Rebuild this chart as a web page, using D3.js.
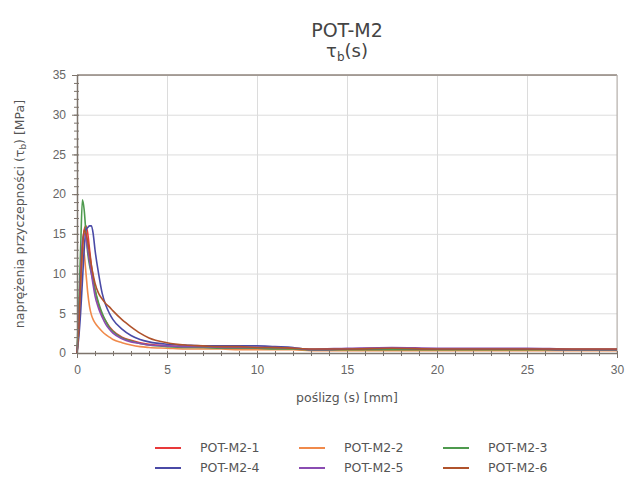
<!DOCTYPE html>
<html lang="pl">
  <head>
    <meta charset="utf-8">
    <title>POT-M2</title>
    <style type="text/css">
      body{ margin: 0; background: #fff; font-family: "DejaVu Sans", Verdana, sans-serif; }
      .grid line{ stroke: #dcdcdc; stroke-width: 1; }
      .grid .domain{ display: none; }
      .axis text{ fill: #666; font-size: 12px; }
      .axis line, .axis path{ stroke: #7d746c; }
      .curve{ fill: none; stroke-width: 1.6; stroke-linejoin: round; }
    </style>
  </head>
  <body>
    <div id="chart"></div>
    <script src="https://d3js.org/d3.v7.min.js"></script>
    <script type="text/javascript">

    const w = 625;
    const h = 479;

    // poślizg [mm]
    const slip = [0, 0.1, 0.2, 0.3, 0.4, 0.5, 0.6, 0.7, 0.8, 0.9, 1.0, 1.2, 1.4, 1.6, 1.8, 2.0, 2.5, 3, 3.5, 4,
                  5, 6, 7, 8, 9, 10, 11, 12, 13, 15, 17.5, 20, 22.5, 25, 27.5, 30];

    const seriesNames = ['POT-M2-1', 'POT-M2-2', 'POT-M2-3', 'POT-M2-4', 'POT-M2-5', 'POT-M2-6'];
    const seriesColors = ['#e8393a', '#f08a4b', '#4e9a4e', '#4a4aa6', '#8a4cb2', '#b0532c'];

    // naprężenia przyczepności [MPa]
    const m2_1 = [0, 3, 8, 13, 15.5, 16, 15, 13, 11, 9.5, 8, 6, 4.8, 4, 3.3, 2.8, 2.0, 1.6, 1.3, 1.1,
                  0.9, 0.8, 0.7, 0.7, 0.7, 0.6, 0.6, 0.5, 0.4, 0.4, 0.5, 0.4, 0.4, 0.4, 0.4, 0.4];
    const m2_2 = [0, 4, 9, 13.5, 12.5, 10, 7.5, 5.8, 4.8, 4.2, 3.8, 3.2, 2.7, 2.3, 2.0, 1.7, 1.3, 1.0, 0.8, 0.7,
                  0.6, 0.5, 0.5, 0.5, 0.4, 0.4, 0.4, 0.4, 0.3, 0.3, 0.3, 0.3, 0.3, 0.3, 0.3, 0.3];
    const m2_3 = [0, 6, 13, 19.3, 18, 15, 12.5, 11, 10, 9, 8, 6.3, 5.0, 4.0, 3.2, 2.7, 1.9, 1.5, 1.2, 1.0,
                  0.8, 0.7, 0.7, 0.6, 0.6, 0.6, 0.5, 0.5, 0.4, 0.4, 0.4, 0.4, 0.4, 0.4, 0.4, 0.4];
    const m2_4 = [0, 2, 5, 9, 13, 15.5, 15.8, 16, 16, 15, 13, 10, 7.5, 6, 5, 4.2, 3.0, 2.2, 1.7, 1.4,
                  1.1, 1.0, 0.9, 0.9, 0.9, 0.9, 0.8, 0.7, 0.4, 0.5, 0.6, 0.5, 0.5, 0.5, 0.4, 0.4];
    const m2_5 = [0, 4, 10, 14, 15, 14.5, 13, 11.5, 10, 8.5, 7.2, 5.6, 4.5, 3.6, 3.0, 2.5, 1.8, 1.4, 1.2, 1.0,
                  0.9, 0.8, 0.8, 0.7, 0.7, 0.7, 0.7, 0.6, 0.5, 0.6, 0.7, 0.6, 0.6, 0.6, 0.5, 0.5];
    const m2_6 = [0, 3, 9, 13, 15.5, 15, 14, 12.5, 11, 9.8, 8.8, 7.5, 6.8, 6.2, 5.8, 5.3, 4.2, 3.3, 2.5, 1.9,
                  1.3, 1.0, 0.9, 0.8, 0.8, 0.7, 0.7, 0.6, 0.5, 0.5, 0.6, 0.5, 0.5, 0.5, 0.5, 0.5];

    const seriesValues = [m2_1, m2_2, m2_3, m2_4, m2_5, m2_6];

    const xTicks = [0, 5, 10, 15, 20, 25, 30];
    const yTicks = [0, 5, 10, 15, 20, 25, 30, 35];

    var margin = {left: 77, top: 75, right: 8, bottom: 126};

    var svg = d3.select('#chart').append('svg')
      .attr('width', w)
      .attr('height', h);

    var x = d3.scaleLinear().domain([0, 30]).range([margin.left, w - margin.right]);
    var y = d3.scaleLinear().domain([0, 35]).range([h - margin.bottom, margin.top]);

    // grid
    svg.append('g').attr('class', 'grid')
      .attr('transform', 'translate(0,' + y(0) + ')')
      .call(d3.axisBottom(x).tickValues(xTicks).tickSize(-(y(0) - y(35))).tickFormat(''));
    svg.append('g').attr('class', 'grid')
      .attr('transform', 'translate(' + x(0) + ',0)')
      .call(d3.axisLeft(y).tickValues(yTicks).tickSize(-(x(30) - x(0))).tickFormat(''));

    // frame top and right
    svg.append('line').attr('x1', x(0)).attr('x2', x(30)).attr('y1', y(35)).attr('y2', y(35))
      .attr('stroke', '#8f857c').attr('stroke-width', 1.5);
    svg.append('line').attr('x1', x(30)).attr('x2', x(30)).attr('y1', y(35)).attr('y2', y(0))
      .attr('stroke', '#b5aea8').attr('stroke-width', 1);

    // curves
    var line = d3.line()
      .x(function(d, i){ return x(slip[i]); })
      .y(function(d){ return y(d); })
      .curve(d3.curveMonotoneX);

    svg.selectAll('.curve')
      .data(seriesValues)
      .enter()
      .append('path')
      .attr('class', 'curve')
      .attr('stroke', function(d, i){ return seriesColors[i]; })
      .attr('d', line);

    // minor ticks
    var xMinor = svg.append('g').attr('class', 'axis')
      .attr('transform', 'translate(0,' + y(0) + ')')
      .call(d3.axisBottom(x).ticks(30).tickSize(3).tickFormat(''));
    xMinor.selectAll('.tick line').attr('y1', -2);
    xMinor.select('.domain').remove();
    var yMinor = svg.append('g').attr('class', 'axis')
      .attr('transform', 'translate(' + x(0) + ',0)')
      .call(d3.axisLeft(y).ticks(35).tickSize(3).tickFormat(''));
    yMinor.selectAll('.tick line').attr('x1', 2);
    yMinor.select('.domain').remove();

    // axes
    var xAxis = svg.append('g').attr('class', 'axis')
      .attr('transform', 'translate(0,' + y(0) + ')')
      .call(d3.axisBottom(x).tickValues(xTicks).tickSize(5).tickSizeOuter(0).tickPadding(7));
    xAxis.select('.domain').attr('stroke-width', 1.5);
    var yAxis = svg.append('g').attr('class', 'axis')
      .attr('transform', 'translate(' + x(0) + ',0)')
      .call(d3.axisLeft(y).tickValues(yTicks).tickSize(5).tickSizeOuter(0).tickPadding(6));
    yAxis.select('.domain').attr('stroke-width', 1.5);

    // titles
    var cx = (x(0) + x(30)) / 2;
    svg.append('text').attr('x', cx).attr('y', 37).attr('text-anchor', 'middle')
      .attr('fill', '#444').attr('font-size', '19px').text('POT-M2');
    var sub = svg.append('text').attr('x', cx).attr('y', 57).attr('text-anchor', 'middle')
      .attr('fill', '#444').attr('font-size', '18px');
    sub.append('tspan').text('τ');
    sub.append('tspan').attr('dy', 4).attr('font-size', '12px').text('b');
    sub.append('tspan').attr('dy', -4).text('(s)');

    // axis labels
    var yl = svg.append('text')
      .attr('transform', 'translate(24,' + ((y(0) + y(35)) / 2) + ') rotate(-90)')
      .attr('text-anchor', 'middle').attr('fill', '#555').attr('font-size', '12.5px');
    yl.append('tspan').text('naprężenia przyczepności (τ');
    yl.append('tspan').attr('dy', 2).attr('font-size', '9px').text('b');
    yl.append('tspan').attr('dy', -2).text(') [MPa]');

    svg.append('text').attr('x', cx).attr('y', 402).attr('text-anchor', 'middle')
      .attr('fill', '#555').attr('font-size', '12.5px').text('poślizg (s) [mm]');

    // legend
    var legend = svg.append('g').attr('class', 'legend');
    var item = legend.selectAll('g')
      .data(seriesNames)
      .enter()
      .append('g')
      .attr('transform', function(d, i){
        return 'translate(' + (155 + (i % 3) * 144) + ',' + (448 + Math.floor(i / 3) * 20) + ')';
      });
    item.append('line').attr('x1', 0).attr('x2', 26).attr('y1', 0).attr('y2', 0)
      .attr('stroke', function(d, i){ return seriesColors[i]; }).attr('stroke-width', 2);
    item.append('text').attr('x', 45).attr('y', 4).attr('fill', '#555').attr('font-size', '12.5px')
      .text(function(d){ return d; });

    </script>
  </body>
</html>
